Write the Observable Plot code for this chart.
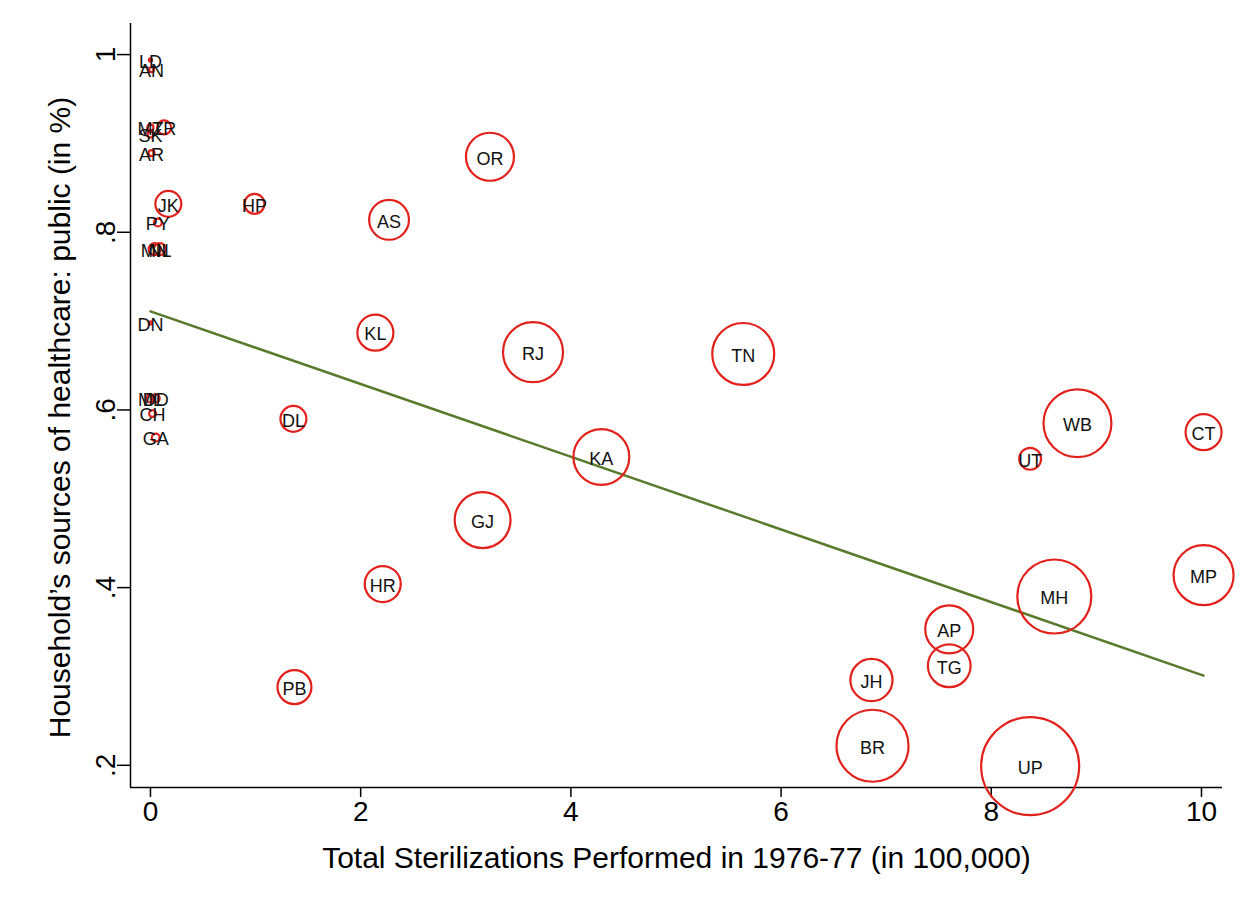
<!DOCTYPE html>
<html>
<head>
<meta charset="utf-8">
<script src="https://cdn.jsdelivr.net/npm/d3@7"></script>
<script src="https://cdn.jsdelivr.net/npm/@observablehq/plot@0.6"></script>
<style>
  html, body { margin: 0; padding: 0; background: #fff; }
  #chart svg { display: block; }
</style>
</head>
<body>
<div id="chart"></div>
<script>
// State codes
const states = ["LD","AN","MZ","TR","SK","AR","JK","HP","PY","MN","NL","DN","ML","DD","CH","GA",
  "OR","AS","KL","RJ","TN","DL","KA","GJ","HR","PB","WB","CT","UT","MP","MH","AP","TG","JH","BR","UP"];
// Total sterilizations performed in 1976-77 (in 100,000)
const sterilizations = [0.00,0.01,0.00,0.13,0.00,0.01,0.17,0.99,0.07,0.04,0.09,0.00,0.00,0.05,0.02,0.05,
  3.23,2.27,2.14,3.64,5.64,1.36,4.29,3.16,2.21,1.37,8.82,10.02,8.37,10.02,8.60,7.60,7.60,6.86,6.87,8.37];
// Household's sources of healthcare: public (share)
const publicShare = [0.994,0.983,0.918,0.918,0.910,0.889,0.832,0.832,0.811,0.781,0.781,0.698,0.613,0.613,0.596,0.569,
  0.885,0.814,0.687,0.665,0.663,0.590,0.547,0.476,0.404,0.288,0.585,0.575,0.545,0.414,0.390,0.353,0.312,0.296,0.222,0.199];
// Bubble weight (population, millions, approx.)
const weight = [0.19,0.5,0.75,4.1,0.75,0.75,14,8.3,1.3,3,3,0.19,1.3,1.3,1,1.3,
  48,33,27,75,80,14,65,65,27,24,96,27,10,75,114,48,38,37,108,200];

// Fitted line endpoints
const fitX = [0, 10.02];
const fitY = [0.711, 0.301];

// Axes
const xTicks = [0, 2, 4, 6, 8, 10];
const yTicks = [1, 0.8, 0.6, 0.4, 0.2];
const yTickLabels = ["1", ".8", ".6", ".4", ".2"];
const xDomain = [-0.19, 10.2];
const yDomain = [0.175, 1.035];
const xTitle = "Total Sterilizations Performed in 1976-77 (in 100,000)";
const yTitle = "Household\u2019s sources of healthcare: public (in %)";

const data = states.map((s, i) => ({state: s, x: sterilizations[i], y: publicShare[i], w: weight[i]}));
const fit = fitX.map((x, i) => ({x, y: fitY[i]}));

const font = "'Liberation Sans', Arial, Helvetica, sans-serif";

const chart = Plot.plot({
  width: 1252,
  height: 907,
  marginLeft: 130,
  marginRight: 30,
  marginTop: 23,
  marginBottom: 120,
  style: {fontFamily: font, background: "#fff", color: "#000", overflow: "visible"},
  x: {domain: xDomain},
  y: {domain: yDomain},
  r: {type: "sqrt", domain: [0, 200], range: [0, 49]},
  marks: [
    Plot.ruleX([xDomain[0]], {stroke: "#000", strokeWidth: 1.5}),
    Plot.ruleY([yDomain[0]], {stroke: "#000", strokeWidth: 1.5}),
    Plot.axisX({
      ticks: xTicks, tickSize: 10, tickPadding: 4, fontSize: 28, tickFormat: d => String(d),
      label: xTitle, labelAnchor: "center", labelArrow: "none", labelOffset: 80, strokeWidth: 1.5
    }),
    Plot.axisY({
      ticks: yTicks, tickSize: 13, tickPadding: 3, fontSize: 28, tickRotate: -90,
      tickFormat: d => yTickLabels[yTicks.indexOf(d)],
      label: yTitle, labelAnchor: "center", labelArrow: "none", labelOffset: 82, strokeWidth: 1.5
    }),
    Plot.line(fit, {x: "x", y: "y", stroke: "#587a2c", strokeWidth: 2.5}),
    Plot.dot(data, {x: "x", y: "y", r: "w", stroke: "#e3211c", strokeWidth: 2.2, fill: "none"}),
    Plot.text(data, {x: "x", y: "y", text: "state", fontSize: 18, fill: "#111", dy: 2})
  ]
});

// axis titles: larger, and y title nudged down to match the reference
d3.select(chart).selectAll("g[aria-label='x-axis label'] text")
  .style("font-size", "30px");
d3.select(chart).selectAll("g[aria-label='y-axis label'] text")
  .style("font-size", "30px")
  .attr("dx", -12);

document.getElementById("chart").appendChild(chart);
</script>
</body>
</html>
